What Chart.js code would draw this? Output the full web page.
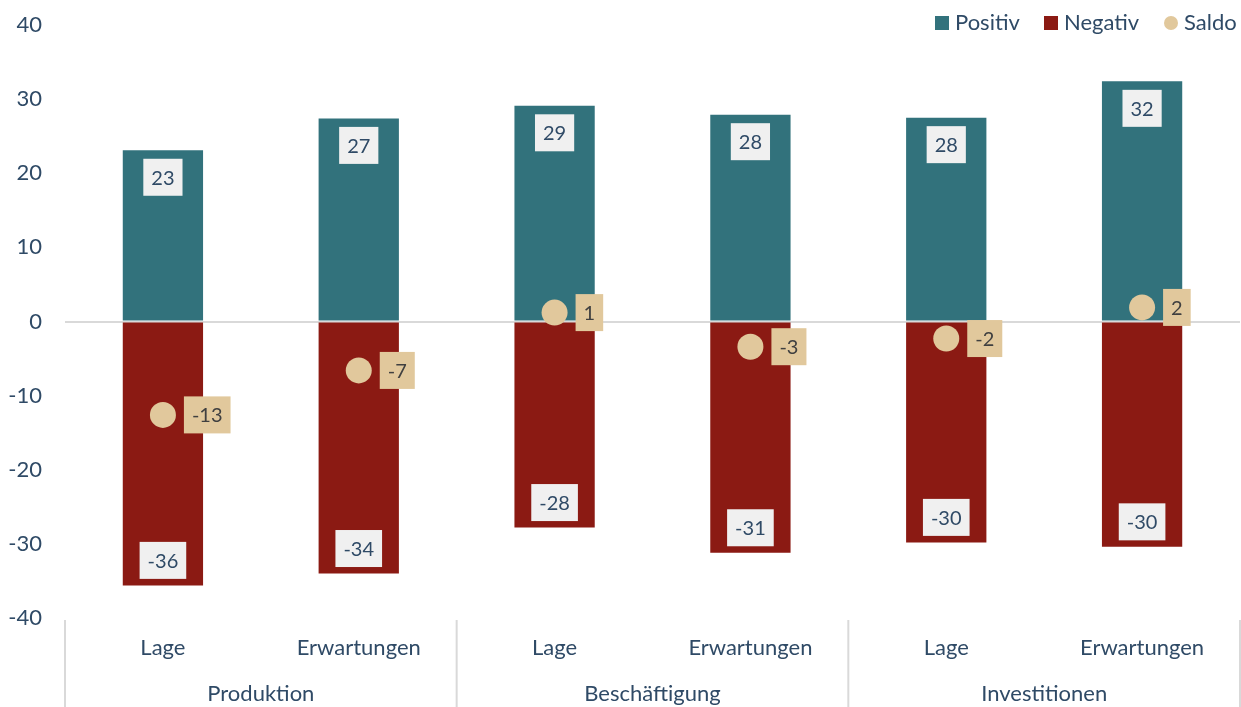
<!DOCTYPE html>
<html>
<head>
<meta charset="utf-8">
<script src="https://cdn.jsdelivr.net/npm/chart.js@4/dist/chart.umd.min.js"></script>
<style>
  html, body { margin: 0; padding: 0; background: #fff; overflow: hidden; }
  #wrap { position: relative; width: 1241px; height: 707px; }
  canvas { display: block; }
</style>
</head>
<body>
<div id="wrap"><canvas id="chart"></canvas></div>
<script>
// categories
const subLabels = ['Lage', 'Erwartungen', 'Lage', 'Erwartungen', 'Lage', 'Erwartungen'];
const groupLabels = ['Produktion', 'Beschäftigung', 'Investitionen'];
// series values
const positiv = [23.1, 27.4, 29.1, 27.9, 27.5, 32.4];
const negativ = [-35.6, -34.0, -27.8, -31.2, -29.8, -30.4];
const saldo = [-12.6, -6.6, 1.2, -3.4, -2.3, 1.9];
const yTicks = [40, 30, 20, 10, 0, -10, -20, -30, -40];

const FONT = 'Lato, "Open Sans", sans-serif';
const TEXT = '#2f4a66';
const C_POS = '#32727c';
const C_NEG = '#8b1a13';
const C_SAL = '#e1c89c';

function box(ctx, cx, cy, text, bg, fg) {
    ctx.font = '20px ' + FONT;
    const w = ctx.measureText(text).width + 16;
    const h = 37;
    ctx.fillStyle = bg;
    ctx.fillRect(cx - w / 2, cy - h / 2, w, h);
    ctx.fillStyle = fg;
    ctx.textAlign = 'center';
    ctx.textBaseline = 'middle';
    ctx.fillText(text, cx, cy + 1);
    return w;
}

const extras = {
    id: 'extras',
    afterDatasetsDraw(chart) {
        const ctx = chart.ctx;
        ctx.save();
        const posMeta = chart.getDatasetMeta(1);
        const negMeta = chart.getDatasetMeta(2);
        const salMeta = chart.getDatasetMeta(0);
        posMeta.data.forEach((el, i) => {
            box(ctx, el.x, el.y + 27, String(Math.round(positiv[i])), '#f0f0f0', TEXT);
        });
        negMeta.data.forEach((el, i) => {
            box(ctx, el.x, el.y - 25, String(Math.round(negativ[i])), '#f0f0f0', TEXT);
        });
        salMeta.data.forEach((el, i) => {
            const t = String(Math.round(saldo[i]));
            ctx.font = '20px ' + FONT;
            const w = ctx.measureText(t).width + 16;
            box(ctx, el.x + 21 + w / 2, el.y, t, C_SAL, '#404040');
        });
        ctx.restore();
    },
    afterDraw(chart) {
        const ctx = chart.ctx;
        const x = chart.scales.x;
        const area = chart.chartArea;
        ctx.save();
        // group separators
        ctx.strokeStyle = '#d9d9d9';
        ctx.lineWidth = 2;
        const bounds = [];
        for (let g = 0; g <= groupLabels.length; g++) {
            let px;
            if (g === 0) px = area.left;
            else if (g === groupLabels.length) px = area.right;
            else px = (x.getPixelForValue(g * 2 - 1) + x.getPixelForValue(g * 2)) / 2;
            bounds.push(px);
            ctx.beginPath();
            ctx.moveTo(px, area.bottom + 2);
            ctx.lineTo(px, chart.height);
            ctx.stroke();
        }
        ctx.font = '22px ' + FONT;
        ctx.fillStyle = TEXT;
        ctx.textAlign = 'center';
        ctx.textBaseline = 'middle';
        groupLabels.forEach((g, i) => {
            ctx.fillText(g, (bounds[i] + bounds[i + 1]) / 2, 694);
        });
        // legend
        const items = [
            { label: 'Positiv', color: C_POS, x: 935, shape: 'rect' },
            { label: 'Negativ', color: C_NEG, x: 1044, shape: 'rect' },
            { label: 'Saldo', color: C_SAL, x: 1164, shape: 'circle' }
        ];
        items.forEach(it => {
            ctx.fillStyle = it.color;
            if (it.shape === 'rect') {
                ctx.fillRect(it.x, 16, 14, 14);
            } else {
                ctx.beginPath();
                ctx.arc(it.x + 7, 23, 7, 0, Math.PI * 2);
                ctx.fill();
            }
            ctx.fillStyle = TEXT;
            ctx.textAlign = 'left';
            ctx.fillText(it.label, it.x + 20, 23);
        });
        ctx.restore();
    }
};

new Chart(document.getElementById('chart'), {
    data: {
        labels: subLabels,
        datasets: [
            {
                type: 'line',
                label: 'Saldo',
                data: saldo,
                showLine: false,
                pointRadius: 13,
                pointHoverRadius: 13,
                pointBackgroundColor: C_SAL,
                pointBorderWidth: 0,
                clip: false,
                order: 0
            },
            {
                type: 'bar',
                label: 'Positiv',
                data: positiv,
                backgroundColor: C_POS,
                order: 1
            },
            {
                type: 'bar',
                label: 'Negativ',
                data: negativ,
                backgroundColor: C_NEG,
                order: 1
            }
        ]
    },
    options: {
        responsive: true,
        maintainAspectRatio: false,
        animation: false,
        datasets: {
            bar: { barPercentage: 0.41, categoryPercentage: 1 }
        },
        layout: { autoPadding: false, padding: { top: 25, right: 1, left: 0, bottom: 0 } },
        plugins: {
            legend: { display: false },
            tooltip: { enabled: false }
        },
        scales: {
            x: {
                stacked: true,
                grid: { display: false, drawTicks: false },
                border: { display: false },
                ticks: {
                    color: TEXT,
                    font: { family: FONT, size: 22 },
                    padding: 17,
                    maxRotation: 0
                },
                afterFit(scale) {
                    scale.height = 89;
                    scale.paddingLeft = 0;
                    scale.paddingRight = 0;
                }
            },
            y: {
                min: -40,
                max: 40,
                afterBuildTicks(scale) {
                    scale.ticks = yTicks.map(v => ({ value: v }));
                },
                grid: {
                    drawTicks: false,
                    lineWidth: 2,
                    color: c => (c.tick && c.tick.value === 0 ? '#d9d9d9' : 'transparent')
                },
                border: { display: false },
                ticks: {
                    color: TEXT,
                    font: { family: FONT, size: 22 },
                    padding: 23
                },
                afterFit(scale) {
                    scale.width = 65;
                    scale.paddingTop = 0;
                    scale.paddingBottom = 0;
                }
            }
        }
    },
    plugins: [extras]
});
</script>
</body>
</html>
